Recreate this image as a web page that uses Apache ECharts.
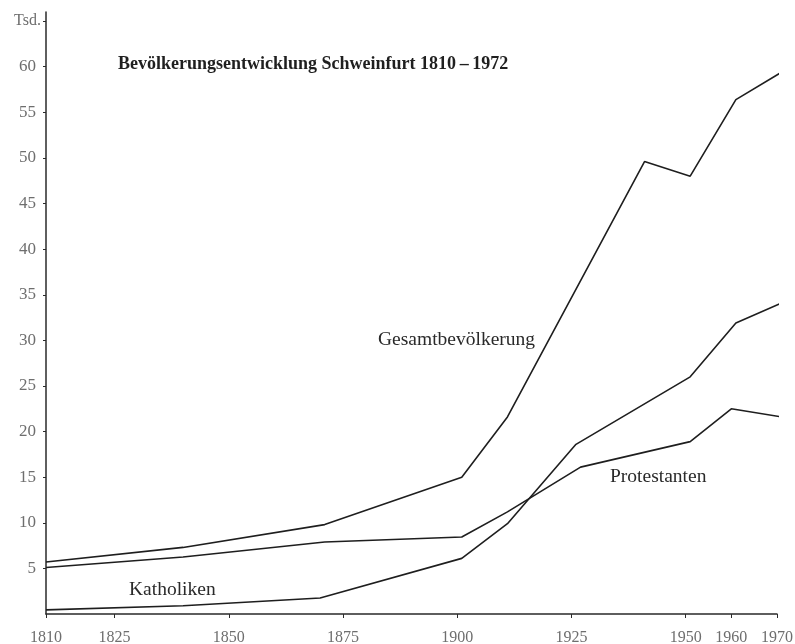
<!DOCTYPE html>
<html>
<head>
<meta charset="utf-8">
<script src="https://cdn.jsdelivr.net/npm/echarts@6/dist/echarts.min.js"></script>
<style>
html,body{margin:0;padding:0;background:#fff;}
#chart{width:795px;height:644px;}
</style>
</head>
<body>
<div id="chart"></div>
<script>
// Data (years, thousands of inhabitants)
const gesamtYears = [1810, 1840, 1871, 1901, 1911, 1941, 1951, 1961, 1971];
const gesamtValues = [5.7, 7.3, 9.8, 15.0, 21.6, 49.6, 48.0, 56.4, 59.4];

const protestantenYears = [1810, 1840, 1871, 1901, 1911, 1927, 1951, 1960, 1971];
const protestantenValues = [5.1, 6.25, 7.9, 8.45, 11.2, 16.1, 18.9, 22.5, 21.6];

const katholikenYears = [1810, 1840, 1870, 1901, 1911, 1926, 1951, 1961, 1971];
const katholikenValues = [0.45, 0.9, 1.75, 6.1, 9.9, 18.6, 26.0, 31.9, 34.1];

const xTickYears = [1810, 1825, 1850, 1875, 1900, 1925, 1950, 1960, 1970];
const yTickValues = [5, 10, 15, 20, 25, 30, 35, 40, 45, 50, 55, 60, 65];
const yUnitLabel = 'Tsd.';

const titleText = 'Bevölkerungsentwicklung Schweinfurt 1810\u2009\u2013\u20091972';
const seriesNames = ['Gesamtbevölkerung', 'Protestanten', 'Katholiken'];

function pairs(xs, ys) { return xs.map((x, i) => [x, ys[i]]); }

const serif = '"Liberation Serif", "DejaVu Serif", serif';
const lineColor = '#1e1e1e';

const chart = echarts.init(document.getElementById('chart'));
const lineSeries = (name, xs, ys) => ({
  name: name,
  type: 'line',
  data: pairs(xs, ys),
  showSymbol: false,
  symbol: 'none',
  clip: false,
  lineStyle: { color: lineColor, width: 1.6 },
  silent: true
});

chart.setOption({
  animation: false,
  backgroundColor: '#ffffff',
  grid: { left: 46, right: 18, top: 12, bottom: 30, containLabel: false, outerBoundsMode: 'none' },
  xAxis: {
    type: 'value',
    min: 1810,
    max: 1970,
    splitLine: { show: false },
    axisLine: { show: true, lineStyle: { color: '#2a2a2a', width: 1.5 } },
    axisTick: { show: true, customValues: xTickYears, length: 4, inside: false, lineStyle: { color: '#2a2a2a' } },
    axisLabel: {
      customValues: xTickYears,
      color: '#6e6e6e',
      fontFamily: serif,
      fontSize: 16,
      margin: 16,
      formatter: v => String(v)
    }
  },
  yAxis: {
    type: 'value',
    min: 0,
    max: 66,
    splitLine: { show: false },
    axisLine: { show: true, onZero: false, lineStyle: { color: '#2a2a2a', width: 1.5 } },
    axisTick: { show: true, customValues: yTickValues, length: 3, lineStyle: { color: '#2a2a2a' } },
    axisLabel: {
      customValues: yTickValues,
      color: '#6e6e6e',
      fontFamily: serif,
      fontSize: 17,
      margin: 10,
      formatter: v => (v === 65 ? '{u|' + yUnitLabel + '}' : String(v)),
      rich: { u: { fontFamily: serif, fontSize: 16, color: '#6e6e6e', padding: [0, -5, 0, 0] } }
    }
  },
  graphic: [
    { type: 'text', left: 118, top: 55, style: { text: titleText, fontFamily: serif, fontWeight: 'bold', fontSize: 18, fill: '#1f1f1f' } },
    { type: 'text', left: 378, top: 330, style: { text: seriesNames[0], fontFamily: serif, fontSize: 19.5, fill: '#2a2a2a' } },
    { type: 'text', left: 610, top: 467, style: { text: seriesNames[1], fontFamily: serif, fontSize: 19.5, fill: '#2a2a2a' } },
    { type: 'text', left: 129, top: 580, style: { text: seriesNames[2], fontFamily: serif, fontSize: 19.5, fill: '#2a2a2a' } }
  ],
  series: [
    lineSeries(seriesNames[0], gesamtYears, gesamtValues),
    lineSeries(seriesNames[1], protestantenYears, protestantenValues),
    lineSeries(seriesNames[2], katholikenYears, katholikenValues)
  ]
});
</script>
</body>
</html>
